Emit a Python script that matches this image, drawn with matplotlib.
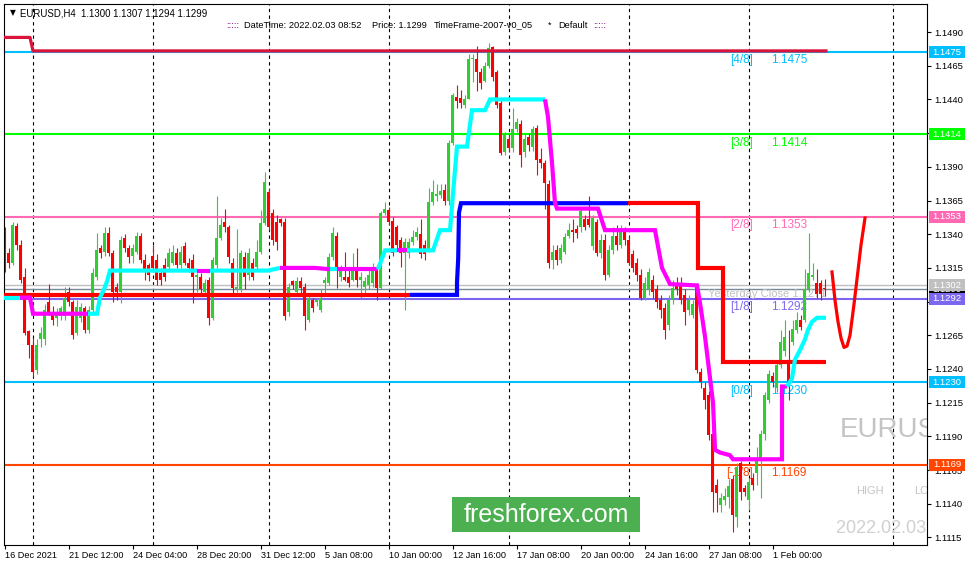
import matplotlib
matplotlib.use('Agg')
import matplotlib.pyplot as plt
import matplotlib.transforms as mtransforms
from matplotlib.patches import Rectangle
from matplotlib.ticker import FormatStrFormatter
import numpy as np

plt.rcParams['font.family'] = ['Liberation Sans', 'DejaVu Sans']

# EURUSD H4 candles, 16 Dec 2021 20:00 .. 3 Feb 2022 08:00
opens = [
    1.1336, 1.1326, 1.1319, 1.1346, 1.1332, 1.1308, 1.1268, 1.1258, 1.1239, 1.1262,
    1.1262, 1.1290, 1.1282, 1.1278, 1.1279, 1.1279, 1.1297, 1.1290, 1.1267, 1.1278,
    1.1285, 1.1269, 1.1284, 1.1308, 1.1330, 1.1327, 1.1341, 1.1326, 1.1301, 1.1297,
    1.1337, 1.1330, 1.1324, 1.1327, 1.1339, 1.1321, 1.1317, 1.1324, 1.1321, 1.1311,
    1.1317, 1.1316, 1.1319, 1.1326, 1.1317, 1.1331, 1.1319, 1.1321, 1.1308, 1.1308,
    1.1297, 1.1306, 1.1278, 1.1317, 1.1337, 1.1349, 1.1345, 1.1319, 1.1299, 1.1299,
    1.1323, 1.1310, 1.1319, 1.1316, 1.1327, 1.1348, 1.1371, 1.1356, 1.1349, 1.1351,
    1.1349, 1.1282, 1.1305, 1.1297, 1.1305, 1.1301, 1.1276, 1.1291, 1.1290, 1.1284,
    1.1304, 1.1304, 1.1323, 1.1339, 1.1308, 1.1308, 1.1308, 1.1306, 1.1314, 1.1306,
    1.1301, 1.1302, 1.1304, 1.1314, 1.1300, 1.1356, 1.1358, 1.1350, 1.1345, 1.1336,
    1.1326, 1.1326, 1.1334, 1.1338, 1.1340, 1.1332, 1.1328, 1.1364, 1.1368, 1.1369,
    1.1373, 1.1365, 1.1408, 1.1442, 1.1441, 1.1436, 1.1440, 1.1470, 1.1470, 1.1460,
    1.1454, 1.1465, 1.1479, 1.1460, 1.1437, 1.1401, 1.1411, 1.1404, 1.1418, 1.1422,
    1.1401, 1.1412, 1.1405, 1.1419, 1.1396, 1.1393, 1.1377, 1.1321, 1.1328, 1.1321,
    1.1327, 1.1339, 1.1343, 1.1344, 1.1345, 1.1351, 1.1351, 1.1331, 1.1349, 1.1326,
    1.1336, 1.1310, 1.1328, 1.1339, 1.1332, 1.1342, 1.1336, 1.1325, 1.1319, 1.1310,
    1.1293, 1.1299, 1.1306, 1.1299, 1.1291, 1.1285, 1.1273, 1.1291, 1.1303, 1.1304,
    1.1295, 1.1284, 1.1280, 1.1301, 1.1238, 1.1226, 1.1221, 1.1192, 1.1154, 1.1139,
    1.1143, 1.1145, 1.1158, 1.1130, 1.1170, 1.1152, 1.1143, 1.1159, 1.1163, 1.1172,
    1.1192, 1.1217, 1.1235, 1.1226, 1.1243, 1.1253, 1.1247, 1.1260, 1.1269, 1.1276,
    1.1276, 1.1299, 1.1308, 1.1304, 1.1304, 1.1300,
]
highs = [
    1.1345, 1.1330, 1.1349, 1.1348, 1.1336, 1.1315, 1.1269, 1.1263, 1.1262, 1.1271,
    1.1288, 1.1303, 1.1287, 1.1285, 1.1287, 1.1301, 1.1301, 1.1291, 1.1291, 1.1289,
    1.1287, 1.1287, 1.1315, 1.1341, 1.1332, 1.1345, 1.1345, 1.1328, 1.1304, 1.1339,
    1.1340, 1.1332, 1.1333, 1.1342, 1.1341, 1.1325, 1.1319, 1.1332, 1.1325, 1.1315,
    1.1322, 1.1330, 1.1332, 1.1330, 1.1331, 1.1334, 1.1322, 1.1325, 1.1311, 1.1311,
    1.1307, 1.1308, 1.1323, 1.1368, 1.1352, 1.1359, 1.1347, 1.1322, 1.1344, 1.1328,
    1.1327, 1.1330, 1.1322, 1.1336, 1.1358, 1.1386, 1.1374, 1.1359, 1.1354, 1.1352,
    1.1352, 1.1304, 1.1306, 1.1308, 1.1308, 1.1304, 1.1295, 1.1293, 1.1293, 1.1299,
    1.1308, 1.1326, 1.1345, 1.1342, 1.1317, 1.1327, 1.1314, 1.1326, 1.1330, 1.1312,
    1.1308, 1.1314, 1.1319, 1.1317, 1.1357, 1.1364, 1.1360, 1.1353, 1.1347, 1.1338,
    1.1337, 1.1337, 1.1343, 1.1345, 1.1351, 1.1336, 1.1374, 1.1380, 1.1377, 1.1377,
    1.1377, 1.1410, 1.1445, 1.1451, 1.1447, 1.1443, 1.1474, 1.1474, 1.1480, 1.1463,
    1.1468, 1.1482, 1.1480, 1.1462, 1.1440, 1.1416, 1.1414, 1.1434, 1.1426, 1.1425,
    1.1414, 1.1415, 1.1420, 1.1421, 1.1404, 1.1395, 1.1380, 1.1332, 1.1332, 1.1333,
    1.1341, 1.1348, 1.1351, 1.1347, 1.1359, 1.1354, 1.1368, 1.1354, 1.1351, 1.1340,
    1.1340, 1.1332, 1.1345, 1.1347, 1.1347, 1.1345, 1.1339, 1.1328, 1.1322, 1.1314,
    1.1308, 1.1315, 1.1310, 1.1302, 1.1295, 1.1289, 1.1295, 1.1306, 1.1308, 1.1308,
    1.1299, 1.1295, 1.1291, 1.1304, 1.1241, 1.1230, 1.1224, 1.1196, 1.1158, 1.1148,
    1.1152, 1.1158, 1.1161, 1.1170, 1.1172, 1.1154, 1.1159, 1.1163, 1.1182, 1.1195,
    1.1223, 1.1239, 1.1238, 1.1247, 1.1269, 1.1276, 1.1269, 1.1276, 1.1282, 1.1280,
    1.1314, 1.1341, 1.1319, 1.1314, 1.1306, 1.1307,
]
lows = [
    1.1312, 1.1315, 1.1317, 1.1328, 1.1304, 1.1265, 1.1248, 1.1234, 1.1236, 1.1256,
    1.1258, 1.1280, 1.1273, 1.1272, 1.1276, 1.1276, 1.1287, 1.1262, 1.1265, 1.1275,
    1.1267, 1.1267, 1.1282, 1.1306, 1.1322, 1.1324, 1.1324, 1.1290, 1.1291, 1.1289,
    1.1327, 1.1319, 1.1319, 1.1325, 1.1319, 1.1306, 1.1305, 1.1312, 1.1302, 1.1302,
    1.1305, 1.1314, 1.1317, 1.1315, 1.1315, 1.1317, 1.1312, 1.1289, 1.1297, 1.1295,
    1.1295, 1.1273, 1.1276, 1.1315, 1.1336, 1.1342, 1.1319, 1.1295, 1.1297, 1.1297,
    1.1299, 1.1306, 1.1306, 1.1314, 1.1325, 1.1347, 1.1343, 1.1332, 1.1328, 1.1346,
    1.1276, 1.1279, 1.1299, 1.1295, 1.1296, 1.1269, 1.1275, 1.1282, 1.1287, 1.1282,
    1.1295, 1.1302, 1.1321, 1.1300, 1.1305, 1.1305, 1.1301, 1.1305, 1.1301, 1.1293,
    1.1296, 1.1299, 1.1301, 1.1291, 1.1299, 1.1354, 1.1347, 1.1324, 1.1328, 1.1316,
    1.1284, 1.1322, 1.1332, 1.1336, 1.1322, 1.1321, 1.1327, 1.1362, 1.1365, 1.1367,
    1.1362, 1.1362, 1.1406, 1.1434, 1.1434, 1.1434, 1.1440, 1.1453, 1.1446, 1.1448,
    1.1453, 1.1463, 1.1454, 1.1434, 1.1399, 1.1399, 1.1401, 1.1401, 1.1416, 1.1390,
    1.1397, 1.1402, 1.1402, 1.1384, 1.1389, 1.1359, 1.1315, 1.1314, 1.1317, 1.1319,
    1.1325, 1.1337, 1.1334, 1.1337, 1.1342, 1.1343, 1.1345, 1.1328, 1.1324, 1.1322,
    1.1306, 1.1308, 1.1325, 1.1328, 1.1330, 1.1332, 1.1317, 1.1312, 1.1305, 1.1291,
    1.1291, 1.1295, 1.1293, 1.1285, 1.1278, 1.1262, 1.1269, 1.1288, 1.1295, 1.1288,
    1.1273, 1.1280, 1.1278, 1.1237, 1.1226, 1.1210, 1.1187, 1.1134, 1.1134, 1.1134,
    1.1139, 1.1137, 1.1119, 1.1123, 1.1143, 1.1146, 1.1135, 1.1150, 1.1154, 1.1144,
    1.1187, 1.1215, 1.1227, 1.1223, 1.1241, 1.1250, 1.1217, 1.1258, 1.1267, 1.1269,
    1.1275, 1.1297, 1.1306, 1.1293, 1.1291, 1.1294,
]
closes = [
    1.1315, 1.1319, 1.1347, 1.1332, 1.1306, 1.1267, 1.1258, 1.1238, 1.1258, 1.1267,
    1.1284, 1.1282, 1.1276, 1.1280, 1.1285, 1.1293, 1.1290, 1.1265, 1.1286, 1.1286,
    1.1269, 1.1284, 1.1311, 1.1328, 1.1326, 1.1341, 1.1326, 1.1297, 1.1297, 1.1336,
    1.1330, 1.1323, 1.1330, 1.1339, 1.1321, 1.1314, 1.1310, 1.1315, 1.1306, 1.1306,
    1.1308, 1.1326, 1.1327, 1.1317, 1.1327, 1.1319, 1.1315, 1.1308, 1.1310, 1.1299,
    1.1304, 1.1278, 1.1321, 1.1337, 1.1347, 1.1345, 1.1323, 1.1300, 1.1301, 1.1326,
    1.1308, 1.1326, 1.1308, 1.1327, 1.1348, 1.1379, 1.1345, 1.1336, 1.1334, 1.1348,
    1.1279, 1.1301, 1.1302, 1.1305, 1.1300, 1.1279, 1.1293, 1.1285, 1.1291, 1.1293,
    1.1306, 1.1323, 1.1341, 1.1316, 1.1314, 1.1306, 1.1304, 1.1315, 1.1306, 1.1308,
    1.1305, 1.1310, 1.1314, 1.1300, 1.1356, 1.1359, 1.1349, 1.1326, 1.1332, 1.1326,
    1.1334, 1.1334, 1.1338, 1.1342, 1.1325, 1.1325, 1.1364, 1.1371, 1.1370, 1.1372,
    1.1365, 1.1408, 1.1443, 1.1439, 1.1437, 1.1440, 1.1470, 1.1471, 1.1460, 1.1452,
    1.1465, 1.1478, 1.1457, 1.1436, 1.1400, 1.1414, 1.1404, 1.1418, 1.1423, 1.1399,
    1.1411, 1.1406, 1.1418, 1.1395, 1.1393, 1.1378, 1.1319, 1.1327, 1.1321, 1.1330,
    1.1338, 1.1343, 1.1342, 1.1341, 1.1357, 1.1345, 1.1347, 1.1352, 1.1326, 1.1336,
    1.1310, 1.1328, 1.1339, 1.1332, 1.1342, 1.1336, 1.1319, 1.1315, 1.1310, 1.1293,
    1.1304, 1.1312, 1.1297, 1.1290, 1.1284, 1.1269, 1.1291, 1.1300, 1.1299, 1.1291,
    1.1282, 1.1291, 1.1288, 1.1239, 1.1230, 1.1217, 1.1191, 1.1149, 1.1148, 1.1144,
    1.1146, 1.1153, 1.1132, 1.1167, 1.1149, 1.1149, 1.1156, 1.1154, 1.1172, 1.1192,
    1.1221, 1.1236, 1.1230, 1.1243, 1.1260, 1.1264, 1.1228, 1.1270, 1.1276, 1.1271,
    1.1299, 1.1311, 1.1310, 1.1296, 1.1296, 1.1299,
]

# Murrey math levels
levels = [1.1475, 1.1414, 1.1353, 1.1292, 1.1230, 1.1169]
level_names = ['[4/8]', '[3/8]', '[2/8]', '[1/8]', '[0/8]', '[-1/8]']
level_colors = ['#00BFFF', '#00FF00', '#FF69B4', '#7B68EE', '#00BFFF', '#FF4500']
prev_high_line = 1.1302
bid_price = 1.1299
yesterday_close = 1.1271

# x-axis labels every 16 bars
xtick_labels = ['16 Dec 2021', '21 Dec 12:00', '24 Dec 04:00', '28 Dec 20:00', '31 Dec 12:00',
                '5 Jan 08:00', '10 Jan 00:00', '12 Jan 16:00', '17 Jan 08:00', '20 Jan 00:00',
                '24 Jan 16:00', '27 Jan 08:00', '1 Feb 00:00']
week_separators = [7, 37, 66, 96, 126, 156, 186, 222]

# crimson top line
top_bar = [-0.25, 6.25, 7.0, 205.25]
top_price = [1.1486, 1.1486, 1.1476, 1.1476]

# red / blue stop line
rb_bar = [-0.25, 101.25, 113.0, 113.0, 113.3, 113.5, 114.0, 155.75, 173.25, 173.25, 179.5, 179.5, 205.25]
rb_price = [1.1295, 1.1295, 1.1295, 1.1304, 1.1322, 1.1356, 1.1363, 1.1363, 1.1363, 1.1315, 1.1315, 1.1245, 1.1245]
rb_col = 'r' + 'b' * 6 + 'r' * 5

# cyan / magenta trailing line
trail_bar = [-0.25, 3.75, 6.25, 7.0, 20.75, 23.0, 23.75, 24.75, 25.5, 26.25,
             48.0, 51.25, 65.75, 68.75, 77.5, 81.25, 83.0, 93.25, 95.0, 98.0,
             100.5, 107.0, 108.75, 111.25, 112.0, 113.0, 115.5, 116.75, 120.0, 121.25,
             135.0, 135.75, 136.75, 137.5, 138.0, 148.25, 150.0, 162.5, 164.25, 166.25,
             173.0, 173.75, 175.0, 177.0, 177.5, 178.75, 181.25, 182.0, 194.25, 194.25,
             195.5, 196.75, 197.5, 198.75, 200.0, 200.75, 201.75, 203.0, 205.25]
trail_price = [1.1293, 1.1293, 1.1293, 1.1281, 1.1281, 1.1281, 1.1293, 1.1299, 1.1305, 1.1313,
               1.1313, 1.1313, 1.1313, 1.1315, 1.1315, 1.1314, 1.1314, 1.1314, 1.1328, 1.1328,
               1.1328, 1.1328, 1.1343, 1.1343, 1.1370, 1.1405, 1.1405, 1.1432, 1.1432, 1.1440,
               1.1440, 1.1427, 1.1393, 1.1363, 1.1359, 1.1359, 1.1343, 1.1343, 1.1315, 1.1303,
               1.1302, 1.1289, 1.1264, 1.1215, 1.1180, 1.1178, 1.1176, 1.1173, 1.1173, 1.1227,
               1.1227, 1.1233, 1.1247, 1.1254, 1.1262, 1.1269, 1.1275, 1.1278, 1.1278]
trail_col = 'c' + 'mmm' + 'cccccc' + 'm' + 'cc' + 'mm' + 'c' + 'm' + 'cc' + 'm' + 'c' * 10 + 'm' * 20 + 'c' * 8

# projection curve
proj_bar = [206.75, 207.5, 208.25, 209.0, 209.75, 210.5, 211.25, 212.25, 213.25, 214.0, 215.0]
proj_price = [1.1312, 1.1291, 1.1275, 1.1263, 1.1256, 1.1257, 1.1265, 1.1288, 1.1313, 1.1332, 1.1352]

W, H = 970, 568
fig = plt.figure(figsize=(W / 100, H / 100), dpi=100)
fig.patch.set_facecolor('white')
ax = fig.add_axes([4 / W, 1 - 545 / H, 923 / W, 541 / H])
ax.set_xlim(-0.25, 230.5)
ax.set_ylim(1.11094, 1.15108)
for s in ax.spines.values():
    s.set_linewidth(0.8)
    s.set_color('black')

# period separators
for b in week_separators:
    ax.axvline(b, color='black', lw=0.8, ls=(0, (3, 3)), zorder=0.5)

# levels
for lv, nm, col in zip(levels, level_names, level_colors):
    ax.axhline(lv, color=col, lw=1.5, zorder=1)
    ax.annotate(nm, xy=(187, lv), xytext=(0, -5.8), textcoords='offset points',
                ha='right', va='center', color=col, fontsize=8.5, zorder=1.2)
    ax.annotate(f'{lv:.4f}', xy=(191.5, lv), xytext=(0, -5.8), textcoords='offset points',
                ha='left', va='center', color=col, fontsize=8.5, zorder=1.2)
ax.axhline(prev_high_line, color='#C0C0C0', lw=1, zorder=1)
ax.axhline(bid_price, color='#778899', lw=1, zorder=1)
ax.text(175.75, 1.1296, f'Yesterday Close {yesterday_close:.4f}', color='#C0C0C0',
        fontsize=8, va='center', ha='left', zorder=1.2)

# candles
o = np.array(opens)
c = np.array(closes)
x = np.arange(len(c))
cols = np.where(c >= o, '#32CD32', '#FF0000')
ax.vlines(x, lows, highs, colors=cols, lw=0.8, zorder=2)
ax.bar(x, np.maximum(np.abs(c - o), 0.00006), bottom=np.minimum(o, c), width=0.75,
       color=cols, linewidth=0, zorder=2.1)


def draw_runs(xs, ys, keys, palette, lw, z):
    start = 0
    for k in range(1, len(keys) + 1):
        if k == len(keys) or keys[k] != keys[start]:
            ax.plot(xs[start:k + 1], ys[start:k + 1], color=palette[keys[start]], lw=lw,
                    solid_capstyle='butt', solid_joinstyle='miter', zorder=z)
            start = k


ax.plot(top_bar, top_price, color='#DC143C', lw=2.3, zorder=3)
draw_runs(rb_bar, rb_price, rb_col, {'r': '#FF0000', 'b': '#0000FF'}, 3.0, 3)
draw_runs(trail_bar, trail_price, trail_col, {'c': '#00FFFF', 'm': '#FF00FF'}, 3.0, 3.2)
ax.plot(proj_bar, proj_price, color='#FF0000', lw=2.3, zorder=3)

# watermark texts on the right, clipped by the chart frame
ax.text(208.75, 1.11948, 'EURUSD', fontsize=20, color='#C4C4C4', ha='left', va='center',
        zorder=0.8, clip_on=True)
ax.text(212.75, 1.11495, 'HIGH', fontsize=8, color='#C4C4C4', ha='left', va='center',
        zorder=0.8, clip_on=True)
ax.text(227.25, 1.11495, 'LOW', fontsize=8, color='#C4C4C4', ha='left', va='center',
        zorder=0.8, clip_on=True)
ax.text(207.75, 1.1122, '2022.02.03 08:52', fontsize=13, color='#D0D0D0', ha='left', va='center',
        zorder=0.8, clip_on=True)

# axes ticks
ax.yaxis.tick_right()
ax.set_yticks([1.1115, 1.1140, 1.1165, 1.1190, 1.1215, 1.1240, 1.1265, 1.1290,
               1.1315, 1.1340, 1.1365, 1.1390, 1.1415, 1.1440, 1.1465, 1.1490])
ax.yaxis.set_major_formatter(FormatStrFormatter('%.4f'))
ax.tick_params(axis='y', direction='out', length=3, width=0.8, pad=2, labelsize=6.8)
ax.set_xticks(list(range(0, 193, 16)))
ax.set_xticklabels(xtick_labels)
for lbl in ax.get_xticklabels():
    lbl.set_ha('left')
ax.tick_params(axis='x', direction='out', length=3, width=0.8, pad=1.5, labelsize=6.6)

# price boxes on the right axis
trans = mtransforms.blended_transform_factory(ax.transAxes, ax.transData)
box_h = 12 / 13480
box_w = 36 / 923


def price_box(p, col, z):
    ax.add_patch(Rectangle((1.0022, p - box_h / 2), box_w, box_h, transform=trans,
                           facecolor=col, edgecolor='none', clip_on=False, zorder=z))
    ax.text(1.0022 + box_w / 2, p, f'{p:.4f}', transform=trans, ha='center', va='center',
            color='white', fontsize=6.8, clip_on=False, zorder=z + 0.01)


price_box(bid_price, '#000000', 5)
for lv, col in zip(levels, level_colors):
    price_box(lv, col, 6)
price_box(prev_high_line, '#C0C0C0', 6)

# header
fig.text(10 / W, 1 - 13 / H, '\u25bc', fontsize=5.5, family='DejaVu Sans', va='center', ha='left')
fig.text(20 / W, 1 - 13 / H, 'EURUSD,H4  1.1300 1.1307 1.1294 1.1299', fontsize=6.9, va='center', ha='left')
fig.text(226 / W, 1 - 25 / H, ':::::', fontsize=6.7, color='#800080', va='center', ha='left')
fig.text(244 / W, 1 - 25 / H, 'DateTime: 2022.02.03 08:52', fontsize=6.7, va='center', ha='left')
fig.text(372 / W, 1 - 25 / H, 'Price: 1.1299', fontsize=6.7, va='center', ha='left')
fig.text(434 / W, 1 - 25 / H, 'TimeFrame-2007-v0_05', fontsize=6.7, va='center', ha='left')
fig.text(548 / W, 1 - 25 / H, '*', fontsize=6.7, va='center', ha='left')
fig.text(558 / W, 1 - 25 / H, 'Default', fontsize=6.7, va='center', ha='left')
fig.text(593 / W, 1 - 25 / H, ':::::', fontsize=6.7, color='#800080', va='center', ha='left')

# freshforex badge
fig.patches.append(Rectangle((452 / W, 1 - 532 / H), 188 / W, 35 / H, transform=fig.transFigure,
                             facecolor='#4CAF50', edgecolor='none', zorder=10))
fig.text(546 / W, 1 - 514.5 / H, 'freshforex.com', fontsize=18, color='white',
         ha='center', va='center', zorder=11)

fig.savefig('out.png', dpi=100, facecolor='white')
